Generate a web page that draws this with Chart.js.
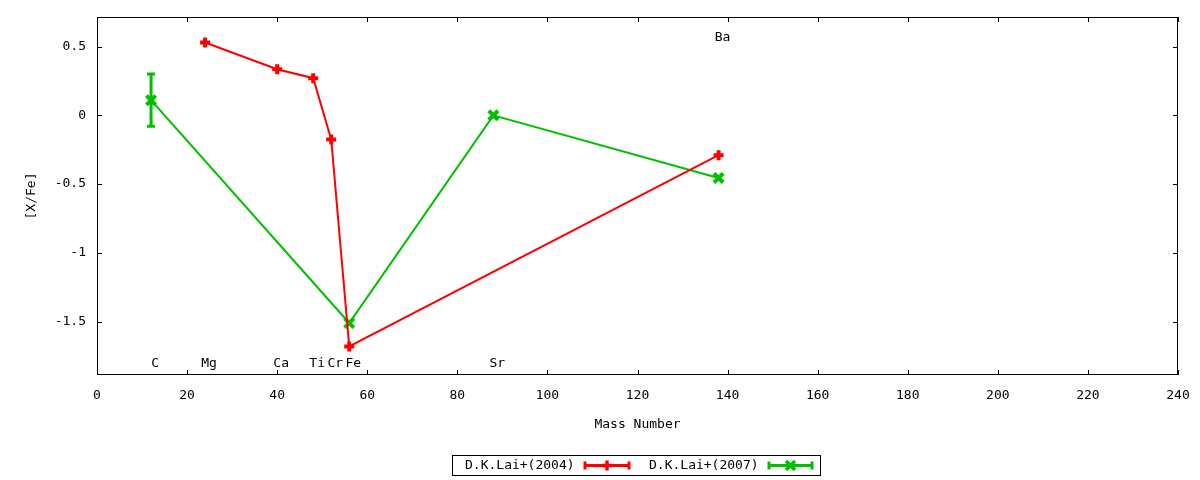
<!DOCTYPE html>
<html>
<head>
<meta charset="utf-8">
<script src="https://cdn.jsdelivr.net/npm/chart.js@4"></script>
<style>
  html, body { margin: 0; padding: 0; background: #fff; }
  #wrap { width: 1200px; height: 480px; }
</style>
</head>
<body>
<div id="wrap"><canvas id="myChart" width="1200" height="480"></canvas></div>
<script>
// element labels
const elements = ['C', 'Mg', 'Ca', 'Ti', 'Cr', 'Fe', 'Sr', 'Ba'];
const elementMass = [12, 24, 40, 48, 52, 56, 88, 138];
const elementLabelY = [-1.8, -1.8, -1.8, -1.8, -1.8, -1.8, -1.8, 0.57];

// D.K.Lai+(2004)
const laiMass04 = [24, 40, 48, 52, 56, 138];
const lai04 = [0.53, 0.335, 0.27, -0.175, -1.68, -0.29];
const laiErr04 = [0, 0, 0, 0, 0, 0];

// D.K.Lai+(2007)
const laiMass07 = [12, 56, 88, 138];
const lai07 = [0.11, -1.51, 0.0, -0.455];
const laiErr07 = [0.19, 0, 0, 0];

const xTicks = [0, 20, 40, 60, 80, 100, 120, 140, 160, 180, 200, 220, 240];
const yTicks = [-1.5, -1, -0.5, 0, 0.5];

const FONT = '13px "DejaVu Sans Mono"';
const RED = '#ff0000';
const GREEN = '#00c000';

function toPoints(xs, ys) {
    return xs.map((x, i) => ({ x: x, y: ys[i] }));
}

function drawMarker(ctx, style, x, y, color) {
    ctx.save();
    ctx.strokeStyle = color;
    ctx.lineWidth = 3.5;
    ctx.beginPath();
    if (style === 'cross') {
        ctx.moveTo(x - 5, y); ctx.lineTo(x + 5, y);
        ctx.moveTo(x, y - 5); ctx.lineTo(x, y + 5);
    } else {
        ctx.moveTo(x - 4.5, y - 4.5); ctx.lineTo(x + 4.5, y + 4.5);
        ctx.moveTo(x - 4.5, y + 4.5); ctx.lineTo(x + 4.5, y - 4.5);
    }
    ctx.stroke();
    ctx.restore();
}

const gnuplotLook = {
    id: 'gnuplotLook',
    afterDatasetsDraw(chart) {
        const ctx = chart.ctx;
        const xs = chart.scales.x, ys = chart.scales.y;
        // error bars
        chart.data.datasets.forEach(ds => {
            ds.data.forEach((p, i) => {
                const e = ds.errors[i];
                if (!e) return;
                const px = xs.getPixelForValue(p.x);
                const top = ys.getPixelForValue(p.y + e);
                const bot = ys.getPixelForValue(p.y - e);
                ctx.save();
                ctx.strokeStyle = ds.borderColor;
                ctx.lineWidth = 3;
                ctx.beginPath();
                ctx.moveTo(px, top); ctx.lineTo(px, bot);
                ctx.moveTo(px - 4, top); ctx.lineTo(px + 4, top);
                ctx.moveTo(px - 4, bot); ctx.lineTo(px + 4, bot);
                ctx.stroke();
                ctx.restore();
            });
        });
    },
    afterDraw(chart) {
        const ctx = chart.ctx;
        const a = chart.chartArea;
        const xs = chart.scales.x, ys = chart.scales.y;
        ctx.save();
        ctx.strokeStyle = '#000';
        ctx.lineWidth = 1;
        ctx.strokeRect(Math.round(a.left) + 0.5, Math.round(a.top) + 0.5,
            Math.round(a.right - a.left) - 1, Math.round(a.bottom - a.top) - 1);

        // inward ticks, mirrored
        ctx.beginPath();
        xTicks.forEach(v => {
            const px = Math.round(xs.getPixelForValue(v)) + 0.5;
            ctx.moveTo(px, a.bottom); ctx.lineTo(px, a.bottom - 5);
            ctx.moveTo(px, a.top); ctx.lineTo(px, a.top + 5);
        });
        yTicks.forEach(v => {
            const py = Math.round(ys.getPixelForValue(v)) + 0.5;
            ctx.moveTo(a.left, py); ctx.lineTo(a.left + 5, py);
            ctx.moveTo(a.right, py); ctx.lineTo(a.right - 5, py);
        });
        ctx.stroke();

        // element labels
        ctx.fillStyle = '#000';
        ctx.font = FONT;
        ctx.textAlign = 'center';
        ctx.textBaseline = 'middle';
        elements.forEach((el, i) => {
            ctx.fillText(el, xs.getPixelForValue(elementMass[i]) + 4, ys.getPixelForValue(elementLabelY[i]) + 1);
        });

        // axis titles
        ctx.fillText('Mass Number', (a.left + a.right) / 2, 425);
        ctx.save();
        ctx.translate(32, (a.top + a.bottom) / 2);
        ctx.rotate(-Math.PI / 2);
        ctx.fillText('[X/Fe]', 0, 0);
        ctx.restore();

        // legend
        ctx.strokeRect(452.5, 455.5, 368, 20);
        ctx.textAlign = 'left';
        const entries = [
            { ds: chart.data.datasets[0], tx: 465, x0: 585, x1: 629, style: 'cross' },
            { ds: chart.data.datasets[1], tx: 649, x0: 769, x1: 812, style: 'crossRot' }
        ];
        entries.forEach(en => {
            const y = 465.5;
            ctx.fillStyle = '#000';
            ctx.fillText(en.ds.label, en.tx, y);
            ctx.strokeStyle = en.ds.borderColor;
            ctx.lineWidth = 3;
            ctx.beginPath();
            ctx.moveTo(en.x0, y); ctx.lineTo(en.x1, y);
            ctx.moveTo(en.x0, y - 4); ctx.lineTo(en.x0, y + 4);
            ctx.moveTo(en.x1, y - 4); ctx.lineTo(en.x1, y + 4);
            ctx.stroke();
            drawMarker(ctx, en.style, (en.x0 + en.x1) / 2, y, en.ds.borderColor);
        });
        ctx.restore();
    }
};

const ctx = document.getElementById('myChart');
const myChart = new Chart(ctx, {
    type: 'line',
    data: {
        datasets: [{
            label: 'D.K.Lai+(2004)',
            data: toPoints(laiMass04, lai04),
            errors: laiErr04,
            borderColor: RED,
            backgroundColor: RED,
            borderWidth: 2,
            pointStyle: 'cross',
            pointRadius: 5,
            pointBorderWidth: 4,
            fill: false,
            tension: 0
        }, {
            label: 'D.K.Lai+(2007)',
            data: toPoints(laiMass07, lai07),
            errors: laiErr07,
            borderColor: GREEN,
            backgroundColor: GREEN,
            borderWidth: 2,
            pointStyle: 'crossRot',
            pointRadius: 6.5,
            pointBorderWidth: 4,
            fill: false,
            tension: 0
        }]
    },
    options: {
        responsive: false,
        animation: false,
        layout: { padding: { top: 17, right: 22, left: 0, bottom: 0 } },
        plugins: { legend: { display: false }, tooltip: { enabled: false } },
        scales: {
            x: {
                type: 'linear',
                min: 0,
                max: 240,
                afterBuildTicks: s => { s.ticks = xTicks.map(v => ({ value: v })); },
                ticks: { callback: v => String(v), padding: 13, color: '#000', maxRotation: 0,
                    font: { family: 'DejaVu Sans Mono', size: 13 } },
                grid: { display: false, drawTicks: false },
                border: { display: false },
                afterFit: s => { s.height = 105; s.paddingLeft = 0; s.paddingRight = 0; }
            },
            y: {
                type: 'linear',
                min: -1.888,
                max: 0.715,
                afterBuildTicks: s => { s.ticks = yTicks.map(v => ({ value: v })); },
                ticks: { callback: v => String(v), padding: 11, color: '#000',
                    font: { family: 'DejaVu Sans Mono', size: 13 } },
                grid: { display: false, drawTicks: false },
                border: { display: false },
                afterFit: s => { s.width = 97; s.paddingTop = 0; s.paddingBottom = 0; }
            }
        }
    },
    plugins: [gnuplotLook]
});
</script>
</body>
</html>
